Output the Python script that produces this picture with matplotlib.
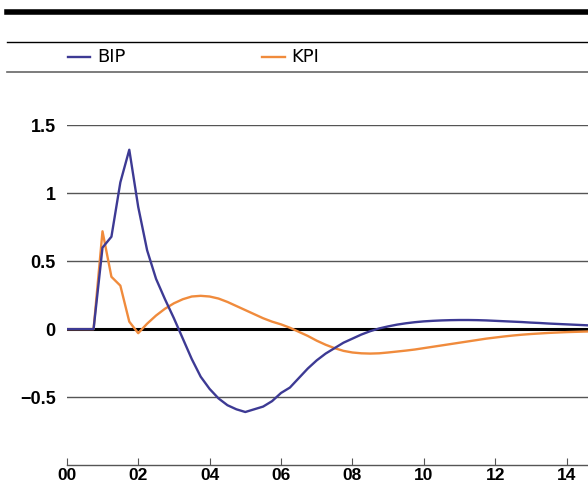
import matplotlib
matplotlib.use("Agg")
import matplotlib.pyplot as plt
from matplotlib.lines import Line2D
import numpy as np

# quarterly steps from 00 onwards
quarters = np.arange(60) * 0.25

bip = [0, 0, 0, 0, 0.60, 0.68, 1.08, 1.32, 0.90, 0.58,
       0.37, 0.22, 0.08, -0.07, -0.22, -0.35, -0.44, -0.51, -0.56, -0.59,
       -0.61, -0.59, -0.57, -0.53, -0.47, -0.43, -0.36, -0.29, -0.23, -0.18,
       -0.14, -0.10, -0.07, -0.04, -0.015, 0.005, 0.02, 0.033, 0.043, 0.051,
       0.057, 0.061, 0.064, 0.066, 0.067, 0.067, 0.066, 0.064, 0.061, 0.058,
       0.055, 0.052, 0.048, 0.045, 0.041, 0.038, 0.035, 0.032, 0.029, 0.026]

kpi = [0, 0, 0, 0, 0.72, 0.385, 0.32, 0.055, -0.03, 0.04,
       0.10, 0.15, 0.19, 0.22, 0.24, 0.245, 0.24, 0.225, 0.20, 0.17,
       0.14, 0.11, 0.08, 0.055, 0.035, 0.01, -0.02, -0.05, -0.085, -0.115,
       -0.14, -0.16, -0.172, -0.178, -0.18, -0.178, -0.172, -0.165, -0.158, -0.15,
       -0.14, -0.13, -0.12, -0.11, -0.10, -0.09, -0.08, -0.07, -0.062, -0.054,
       -0.047, -0.041, -0.036, -0.032, -0.028, -0.025, -0.022, -0.02, -0.018, -0.016]

xticks = [0, 2, 4, 6, 8, 10, 12, 14]
xlabels = ["00", "02", "04", "06", "08", "10", "12", "14"]
yticks = [-0.5, 0, 0.5, 1, 1.5]
ylabels = ["\u22120.5", "0", "0.5", "1", "1.5"]

blue = "#3d3a94"
orange = "#f08b3c"

W, H = 588, 486
fig = plt.figure(figsize=(W / 100, H / 100), dpi=100)
ax = fig.add_axes([66.8 / W, (H - 465) / H, (W - 66.8) / W, (465 - 125.3) / H])

for y in [-0.5, 0.5, 1, 1.5]:
    ax.axhline(y, color="#555555", lw=1.0, zorder=1)
ax.axhline(0, color="black", lw=2.2, zorder=2)

ax.plot(quarters, kpi, color=orange, lw=1.7, zorder=3)
ax.plot(quarters, bip, color=blue, lw=1.7, zorder=3)

ax.set_xlim(0, (W - 66.8) / 35.7)
ax.set_ylim(-1, 1.5)
for s in ["top", "right", "left"]:
    ax.spines[s].set_visible(False)
ax.spines["bottom"].set_color("#555555")
ax.spines["bottom"].set_linewidth(1.0)

ax.set_xticks(xticks)
ax.set_xticklabels(xlabels, fontfamily="Liberation Sans", fontweight="bold", fontsize=12.5)
ax.set_yticks(yticks)
ax.set_yticklabels(ylabels, fontfamily="Liberation Sans", fontweight="bold", fontsize=13)
ax.tick_params(axis="x", direction="in", length=5, width=0.8, color="#555555", pad=2.5)
ax.tick_params(axis="y", length=0, pad=8)
ax.patch.set_alpha(0)

# header rules
fig.add_artist(Line2D([7 / W, 1], [1 - 12.5 / H] * 2, color="black", lw=4))
fig.add_artist(Line2D([7 / W, 1], [1 - 42.3 / H] * 2, color="black", lw=1))
fig.add_artist(Line2D([7 / W, 1], [1 - 72.3 / H] * 2, color="#666666", lw=1.2))

# legend
ly = 1 - 57.5 / H
fig.add_artist(Line2D([67.7 / W, 90 / W], [ly, ly], color=blue, lw=1.7))
fig.text(97 / W, ly, "BIP", fontsize=13, va="center",
         family=["Liberation Sans Narrow", "DejaVu Sans"])
fig.add_artist(Line2D([262 / W, 285 / W], [ly, ly], color=orange, lw=1.7))
fig.text(291 / W, ly, "KPI", fontsize=13, va="center",
         family=["Liberation Sans Narrow", "DejaVu Sans"])

fig.savefig("out.png", dpi=100)
